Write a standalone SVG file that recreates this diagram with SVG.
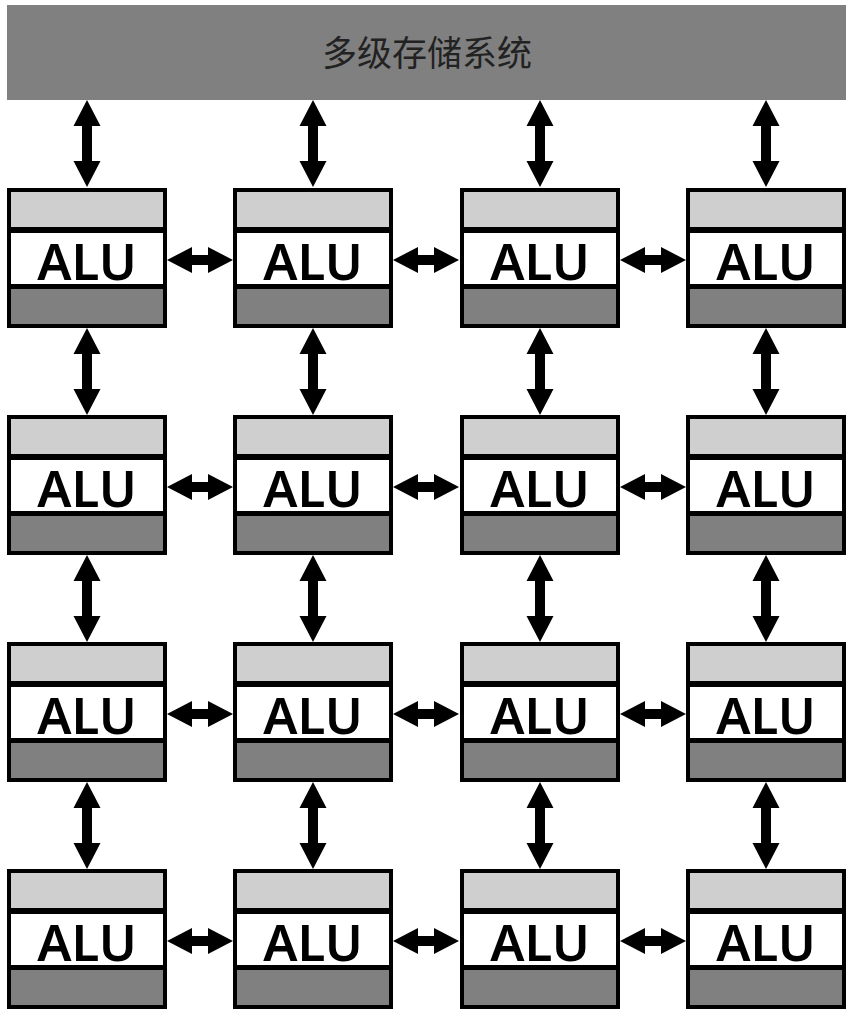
<svg xmlns="http://www.w3.org/2000/svg" xmlns:xlink="http://www.w3.org/1999/xlink" width="858" height="1019" viewBox="0 0 858 1019">
<style>
.frame{fill:#000}
.top{fill:#cfcfcf}
.mid{fill:#fff}
.bot{fill:#808080}
.alu{font-family:"Noto Sans","Open Sans",sans-serif;font-weight:600;font-size:51px;fill:#000;text-anchor:middle}
.title{font-family:"Noto Sans CJK SC","Noto Sans",sans-serif;font-size:35px;fill:#222;text-anchor:middle}
.arrow{fill:#000}
</style>
<defs>
<path id="va" d="M0,0 L13.5,26 L5,26 L5,61 L13.5,61 L0,87 L-13.5,61 L-5,61 L-5,26 L-13.5,26 Z"/>
<path id="ha" d="M0,0 L25,-13 L25,-5 L41,-5 L41,-13 L66,0 L41,13 L41,5 L25,5 L25,13 Z"/>
<g id="cell">
<rect class="frame" x="0" y="0" width="160" height="140"/>
<rect class="top" x="4" y="4" width="152" height="35"/>
<rect class="mid" x="4" y="45" width="152" height="51"/>
<rect class="bot" x="4" y="101" width="152" height="35"/>
<text class="alu" x="80" y="92">ALU</text>
</g>
</defs>
<g id="memory">
<rect x="7" y="5" width="839" height="95" fill="#808080"/>
<text class="title" x="427" y="66">多级存储系统</text>
</g>
<g id="connectors" class="arrow">
<use xlink:href="#va" x="87" y="100"/><use xlink:href="#va" x="313" y="100"/><use xlink:href="#va" x="540" y="100"/><use xlink:href="#va" x="766" y="100"/>
<use xlink:href="#va" x="87" y="328"/><use xlink:href="#va" x="313" y="328"/><use xlink:href="#va" x="540" y="328"/><use xlink:href="#va" x="766" y="328"/>
<use xlink:href="#va" x="87" y="555"/><use xlink:href="#va" x="313" y="555"/><use xlink:href="#va" x="540" y="555"/><use xlink:href="#va" x="766" y="555"/>
<use xlink:href="#va" x="87" y="782"/><use xlink:href="#va" x="313" y="782"/><use xlink:href="#va" x="540" y="782"/><use xlink:href="#va" x="766" y="782"/>
<use xlink:href="#ha" x="167" y="260"/><use xlink:href="#ha" x="393" y="260"/><use xlink:href="#ha" x="620" y="260"/>
<use xlink:href="#ha" x="167" y="487"/><use xlink:href="#ha" x="393" y="487"/><use xlink:href="#ha" x="620" y="487"/>
<use xlink:href="#ha" x="167" y="714"/><use xlink:href="#ha" x="393" y="714"/><use xlink:href="#ha" x="620" y="714"/>
<use xlink:href="#ha" x="167" y="941"/><use xlink:href="#ha" x="393" y="941"/><use xlink:href="#ha" x="620" y="941"/>
</g>
<g id="alu-r1c1"><use xlink:href="#cell" x="7" y="188"/></g>
<g id="alu-r1c2"><use xlink:href="#cell" x="233" y="188"/></g>
<g id="alu-r1c3"><use xlink:href="#cell" x="460" y="188"/></g>
<g id="alu-r1c4"><use xlink:href="#cell" x="686" y="188"/></g>
<g id="alu-r2c1"><use xlink:href="#cell" x="7" y="415"/></g>
<g id="alu-r2c2"><use xlink:href="#cell" x="233" y="415"/></g>
<g id="alu-r2c3"><use xlink:href="#cell" x="460" y="415"/></g>
<g id="alu-r2c4"><use xlink:href="#cell" x="686" y="415"/></g>
<g id="alu-r3c1"><use xlink:href="#cell" x="7" y="642"/></g>
<g id="alu-r3c2"><use xlink:href="#cell" x="233" y="642"/></g>
<g id="alu-r3c3"><use xlink:href="#cell" x="460" y="642"/></g>
<g id="alu-r3c4"><use xlink:href="#cell" x="686" y="642"/></g>
<g id="alu-r4c1"><use xlink:href="#cell" x="7" y="869"/></g>
<g id="alu-r4c2"><use xlink:href="#cell" x="233" y="869"/></g>
<g id="alu-r4c3"><use xlink:href="#cell" x="460" y="869"/></g>
<g id="alu-r4c4"><use xlink:href="#cell" x="686" y="869"/></g>
</svg>
